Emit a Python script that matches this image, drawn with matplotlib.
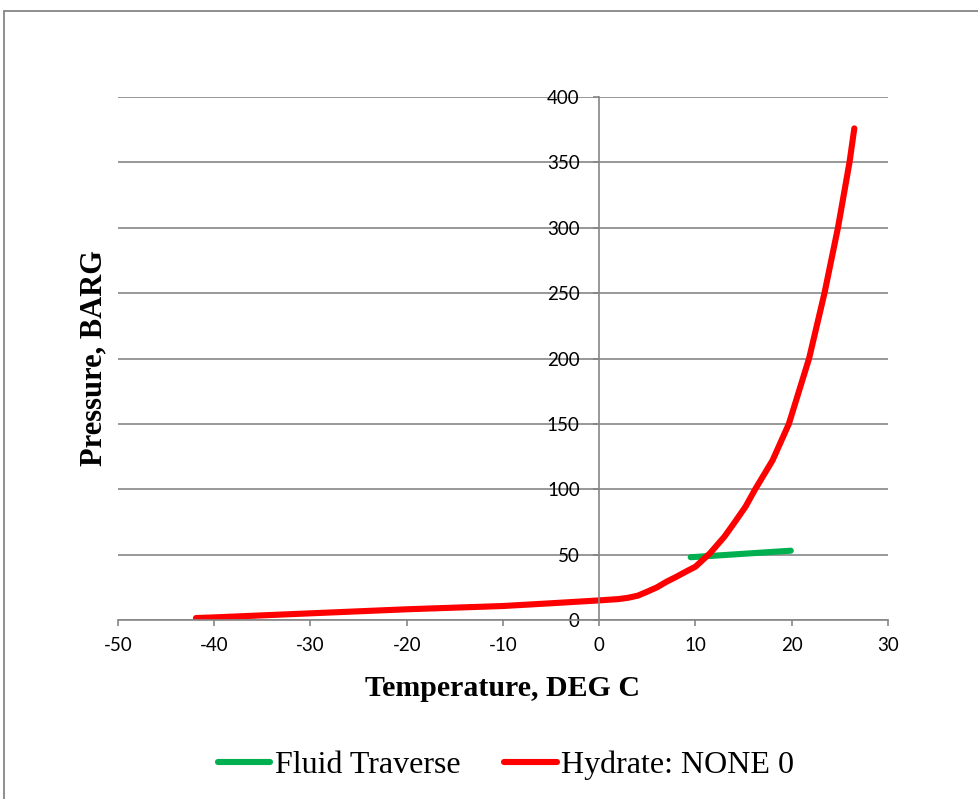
import numpy as np
import matplotlib.pyplot as plt
from matplotlib.patches import Rectangle

plt.rcParams['axes.unicode_minus'] = False

#---------- data

fluid_T = [9.5, 19.9]
fluid_P = [48.0, 53.0]

hyd_T = [-41.9, -40.0, -30.0, -20.0, -10.0, -5.0, 0.0, 2.0, 3.0, 4.0, 5.0, 6.0, 7.0, 8.0, 9.0, 10.0,
         11.5, 13.0, 14.0, 15.2, 16.2, 18.0, 19.7, 21.8, 23.4, 24.8, 26.0, 26.5]
hyd_P = [1.5, 2.0, 5.1, 8.2, 10.7, 12.8, 15.0, 16.0, 17.0, 18.6, 21.7, 25.0, 29.3, 33.0, 37.0, 40.8,
         51.0, 63.7, 74.0, 86.7, 100.0, 122.0, 150.0, 200.0, 250.0, 300.0, 350.0, 376.0]

xticks = [-50, -40, -30, -20, -10, 0, 10, 20, 30]
yticks = [0, 50, 100, 150, 200, 250, 300, 350, 400]

#---------- plot

grey = '#868686'

fig = plt.figure(figsize=(9.79, 7.99), dpi=100)
ax = fig.add_axes([118/979, 1-620/799, (888-118)/979, (620-97)/799])

ax.plot(fluid_T, fluid_P, color='#00B050', lw=4.4, solid_capstyle='round', label='Fluid Traverse')
ax.plot(hyd_T, hyd_P, color='#FF0000', lw=4.4, solid_capstyle='round', solid_joinstyle='round',
        label='Hydrate: NONE 0')

ax.set_xlim(-50, 30)
ax.set_ylim(0, 400)
ax.set_xticks(xticks)
ax.set_yticks(yticks)

ax.spines['top'].set_visible(False)
ax.spines['right'].set_visible(False)
ax.spines['left'].set_position(('data', 0))
ax.spines['left'].set_color(grey)
ax.spines['bottom'].set_color(grey)
ax.spines['left'].set_linewidth(1.2)
ax.spines['bottom'].set_linewidth(1.2)
ax.set_axisbelow(True)
ax.yaxis.grid(True, color=grey, lw=1.2)

ax.tick_params(axis='both', direction='out', color=grey, width=1.2, length=4,
               labelsize=13.5, labelcolor='black')
ax.tick_params(axis='x', pad=8)
ax.tick_params(axis='y', pad=10)
for lab in ax.get_xticklabels() + ax.get_yticklabels():
    lab.set_family('Lato')

ax.set_xlabel('Temperature, DEG C', family='Liberation Serif', fontweight='bold', fontsize=21.5)
ax.set_ylabel('Pressure, BARG', family='Liberation Serif', fontweight='bold', fontsize=22)
ax.xaxis.set_label_coords(0.5, -0.105)
ax.yaxis.set_label_coords(-0.013, 0.5)

handles, labels = ax.get_legend_handles_labels()
fig.legend(handles, labels, loc='center', bbox_to_anchor=(506/979, 1-765/799), ncol=2,
           frameon=False, prop={'family': 'Liberation Serif', 'size': 23},
           handlelength=1.65, handletextpad=0.15, columnspacing=1.35)

fig.patches.append(Rectangle((4, -10), 1100, 799-11+10, transform=None,
                             fill=False, edgecolor=grey, lw=1.3))

plt.savefig('out.png', dpi=100)
plt.close()
